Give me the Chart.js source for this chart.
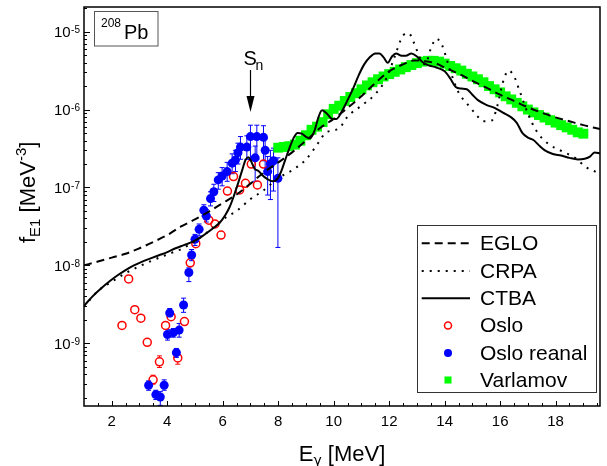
<!DOCTYPE html>
<html>
<head>
<meta charset="utf-8">
<title>208Pb E1 strength function</title>
<script src="https://cdn.jsdelivr.net/npm/chart.js@4.4.0/dist/chart.umd.min.js"></script>
<style>
  body { margin: 0; background: #fff; }
</style>
</head>
<body>
<canvas id="chart" width="607" height="466"></canvas>
<script>
// EGLO model (dashed)
var egloE = [1.0, 1.5, 2.0, 2.5, 3.0, 3.5, 4.0, 4.5, 5.0, 5.5,
             6.0, 6.5, 7.0, 7.5, 8.0, 8.5, 9.0, 9.5, 10.0, 10.5,
             11.0, 11.5, 12.0, 12.5, 12.9, 13.3, 13.7, 14.0, 14.5, 15.0,
             15.5, 16.0, 16.5, 17.0, 17.5, 18.0, 18.5, 19.0, 19.6];
var egloF = [1.0e-8, 1.12e-8, 1.26e-8, 1.41e-8, 1.66e-8, 2.0e-8, 2.45e-8, 3.16e-8, 3.89e-8, 4.9e-8,
             6.31e-8, 8.13e-8, 1.12e-7, 1.58e-7, 2.09e-7, 2.82e-7, 3.98e-7, 5.75e-7, 7.59e-7, 1.05e-6,
             1.48e-6, 2.19e-6, 3.09e-6, 3.8e-6, 4.27e-6, 4.17e-6, 3.89e-6, 3.47e-6, 2.88e-6, 2.34e-6,
             1.91e-6, 1.55e-6, 1.29e-6, 1.07e-6, 9.12e-7, 7.94e-7, 7.08e-7, 6.31e-7, 5.62e-7];

// CRPA model (dotted)
var crpaE = [1.0, 1.5, 2.0, 2.5, 3.0, 3.5, 4.0, 4.5, 5.0, 5.5,
             6.0, 6.5, 7.0, 7.5, 8.0, 8.5, 9.0, 9.5, 9.7, 10.2,
             10.5, 11.0, 11.5, 11.9, 12.2, 12.5, 12.7, 12.9, 13.1, 13.3,
             13.5, 13.7, 13.9, 14.2, 14.5, 14.8, 15.1, 15.4, 15.7, 15.9,
             16.1, 16.3, 16.5, 16.7, 17.0, 17.3, 17.7, 18.2, 18.7, 19.1,
             19.6];
var crpaF = [2.95e-9, 4.68e-9, 6.17e-9, 7.94e-9, 9.77e-9, 1.17e-8, 1.38e-8, 1.62e-8, 2.04e-8, 2.75e-8,
             3.89e-8, 5.01e-8, 7.08e-8, 9.33e-8, 1.32e-7, 1.66e-7, 2.29e-7, 3.98e-7, 5.01e-7, 5.75e-7,
             8.13e-7, 1.12e-6, 1.58e-6, 2.51e-6, 4.79e-6, 8.91e-6, 9.55e-6, 7.08e-6, 4.68e-6, 3.8e-6,
             6.03e-6, 8.13e-6, 6.76e-6, 3.16e-6, 1.66e-6, 1.2e-6, 8.91e-7, 7.08e-7, 7.24e-7, 1.12e-6,
             2.24e-6, 3.16e-6, 2.69e-6, 1.74e-6, 8.91e-7, 5.37e-7, 3.72e-7, 2.95e-7, 2.4e-7, 1.82e-7,
             1.51e-7];

// CTBA model (solid)
var ctbaE = [1.0, 1.3, 1.6, 1.9, 2.2, 2.5, 2.8, 3.1, 3.4, 3.7,
             4.0, 4.3, 4.6, 4.9, 5.2, 5.4, 5.7, 5.9, 6.1, 6.25,
             6.4, 6.55, 6.7, 6.82, 6.92, 7.02, 7.15, 7.3, 7.42, 7.6,
             7.8, 7.95, 8.1, 8.25, 8.4, 8.55, 8.7, 8.85, 9.0, 9.15,
             9.3, 9.45, 9.58, 9.75, 9.95, 10.1, 10.3, 10.5, 10.7, 10.9,
             11.1, 11.3, 11.5, 11.65, 11.8, 11.95, 12.1, 12.25, 12.45, 12.6,
             12.8, 13.0, 13.2, 13.4, 13.7, 14.0, 14.2, 14.4, 14.6, 14.8,
             15.0, 15.2, 15.5, 15.8, 16.1, 16.4, 16.6, 16.8, 17.0, 17.2,
             17.4, 17.6, 17.9, 18.2, 18.5, 18.8, 19.05, 19.25, 19.4, 19.6];
var ctbaF = [3.02e-9, 3.98e-9, 5.01e-9, 6.17e-9, 7.41e-9, 8.71e-9, 1.0e-8, 1.12e-8, 1.23e-8, 1.35e-8,
             1.48e-8, 1.66e-8, 1.82e-8, 2.0e-8, 2.29e-8, 2.57e-8, 3.09e-8, 3.55e-8, 4.47e-8, 5.62e-8,
             7.76e-8, 1.12e-7, 1.66e-7, 2.24e-7, 2.45e-7, 2.19e-7, 1.74e-7, 1.62e-7, 1.45e-7, 1.29e-7,
             1.2e-7, 1.26e-7, 1.58e-7, 2.24e-7, 3.16e-7, 4.27e-7, 5.01e-7, 4.9e-7, 4.47e-7, 4.27e-7,
             5.25e-7, 7.94e-7, 9.77e-7, 8.91e-7, 7.59e-7, 7.59e-7, 9.55e-7, 1.32e-6, 1.86e-6, 2.75e-6,
             3.8e-6, 4.68e-6, 5.25e-6, 5.25e-6, 4.68e-6, 3.98e-6, 4.79e-6, 5.25e-6, 4.9e-6, 4.9e-6,
             5.25e-6, 4.79e-6, 4.07e-6, 3.72e-6, 3.47e-6, 3.09e-6, 2.51e-6, 1.95e-6, 1.86e-6, 1.82e-6,
             1.55e-6, 1.32e-6, 1.15e-6, 1.05e-6, 9.12e-7, 7.94e-7, 6.76e-7, 5.01e-7, 4.37e-7, 4.07e-7,
             3.47e-7, 3.02e-7, 2.69e-7, 2.57e-7, 2.4e-7, 2.29e-7, 2.34e-7, 2.51e-7, 2.82e-7, 2.75e-7];

// Oslo data (open red circles)
var osloE  = [2.37, 2.61, 2.83, 3.05, 3.28, 3.49, 3.72, 3.94, 4.14, 4.38, 4.62, 4.83,
              5.03, 5.50, 5.72, 5.94, 6.17, 6.39, 6.61, 6.82, 7.03, 7.25, 7.47];
var osloF  = [1.7e-9, 6.7e-9, 2.7e-9, 2.1e-9, 1.03e-9, 3.4e-10, 5.8e-10, 1.7e-9, 2.2e-9, 6.5e-10, 1.9e-9, 1.08e-8,
              1.9e-8, 3.8e-8, 3.4e-8, 2.45e-8, 9.0e-8, 1.38e-7, 9.3e-8, 1.13e-7, 2.0e-7, 1.08e-7, 2.0e-7];
var osloLo = [1.6e-9, 6.2e-9, 2.55e-9, 2.0e-9, 9.7e-10, 3.0e-10, 4.9e-10, 1.6e-9, 2.05e-9, 5.4e-10, 1.75e-9, 1.0e-8,
              1.8e-8, 3.6e-8, 3.2e-8, 2.3e-8, 8.5e-8, 1.3e-7, 8.8e-8, 1.07e-7, 1.9e-7, 1.02e-7, 1.9e-7];
var osloHi = [1.8e-9, 7.2e-9, 2.85e-9, 2.2e-9, 1.09e-9, 3.9e-10, 6.9e-10, 1.8e-9, 2.35e-9, 7.6e-10, 2.05e-9, 1.16e-8,
              2.0e-8, 4.0e-8, 3.6e-8, 2.6e-8, 9.5e-8, 1.46e-7, 9.8e-8, 1.19e-7, 2.1e-7, 1.14e-7, 2.1e-7];

// Oslo reanalysis (filled blue circles)
var reanE  = [3.33, 3.59, 3.75, 3.89, 4.01, 4.09, 4.22, 4.33, 4.43, 4.59,
              4.78, 4.88, 5.0, 5.15, 5.32, 5.41, 5.56, 5.68, 5.84, 5.98,
              6.16, 6.34, 6.46, 6.55, 6.64, 6.87, 7.0, 7.17, 7.23, 7.47,
              7.53, 7.62, 7.72, 7.83, 7.99];
var reanF  = [2.9e-10, 2.2e-10, 2.05e-10, 2.9e-10, 1.3e-9, 2.45e-9, 1.37e-9, 7.6e-10, 1.48e-9, 3.1e-9,
              8.1e-9, 1.36e-8, 2.16e-8, 2.9e-8, 5.1e-8, 4.3e-8, 7.2e-8, 8.8e-8, 1.25e-7, 1.4e-7,
              1.6e-7, 2.05e-7, 2.25e-7, 2.8e-7, 3.3e-7, 3.3e-7, 4.5e-7, 2.4e-7, 4.5e-7, 4.4e-7,
              3.0e-7, 1.6e-7, 2.0e-7, 2.2e-7, 1.31e-7];
var reanLo = [2.5e-10, 1.9e-10, 1.6e-10, 2.5e-10, 1.1e-9, 2.2e-9, 1.2e-9, 6.6e-10, 1.2e-9, 2.5e-9,
              6.2e-9, 1.15e-8, 1.8e-8, 2.4e-8, 4.3e-8, 3.6e-8, 5.8e-8, 6.6e-8, 9.5e-8, 1.05e-7,
              1.2e-7, 1.5e-7, 1.6e-7, 2.0e-7, 2.3e-7, 2.3e-7, 2.3e-7, 1.2e-7, 2.3e-7, 2.2e-7,
              1.5e-7, 8.0e-8, 7.0e-8, 9.0e-8, 1.7e-8];
var reanHi = [3.3e-10, 2.5e-10, 2.4e-10, 3.4e-10, 1.5e-9, 2.8e-9, 1.55e-9, 8.6e-10, 1.8e-9, 3.8e-9,
              9.3e-9, 1.6e-8, 2.5e-8, 3.4e-8, 6.0e-8, 5.2e-8, 8.8e-8, 1.1e-7, 1.55e-7, 1.8e-7,
              2.1e-7, 2.7e-7, 3.0e-7, 3.7e-7, 4.5e-7, 4.6e-7, 6.3e-7, 3.4e-7, 6.3e-7, 6.2e-7,
              4.2e-7, 2.5e-7, 3.0e-7, 3.2e-7, 2.4e-7];

// Varlamov (green squares)
var varlE = [8.0, 8.2, 8.4, 8.6, 8.8, 9.0, 9.2, 9.4, 9.6, 9.8,
             10.0, 10.2, 10.4, 10.6, 10.8, 11.0, 11.2, 11.4, 11.6, 11.8,
             12.0, 12.2, 12.4, 12.6, 12.8, 13.0, 13.2, 13.4, 13.6, 13.8,
             14.0, 14.2, 14.4, 14.6, 14.8, 15.0, 15.2, 15.4, 15.6, 15.8,
             16.0, 16.2, 16.4, 16.6, 16.8, 17.0, 17.2, 17.4, 17.6, 17.8,
             18.0, 18.2, 18.4, 18.6, 18.8, 19.0];
var varlF = [3.24e-7, 3.31e-7, 3.39e-7, 3.55e-7, 3.98e-7, 4.68e-7, 5.5e-7, 6.03e-7, 6.9e-7, 8.7e-7,
             1.02e-6, 1.12e-6, 1.29e-6, 1.45e-6, 1.62e-6, 1.82e-6, 2.04e-6, 2.24e-6, 2.45e-6, 2.66e-6,
             2.85e-6, 3.05e-6, 3.27e-6, 3.5e-6, 3.72e-6, 3.94e-6, 4.12e-6, 4.22e-6, 4.22e-6, 4.12e-6,
             3.89e-6, 3.63e-6, 3.39e-6, 3.16e-6, 2.88e-6, 2.66e-6, 2.45e-6, 2.24e-6, 2.0e-6, 1.82e-6,
             1.66e-6, 1.48e-6, 1.35e-6, 1.22e-6, 1.1e-6, 1.0e-6, 9.2e-7, 8.5e-7, 7.9e-7, 7.3e-7,
             6.8e-7, 6.3e-7, 5.9e-7, 5.5e-7, 5.1e-7, 4.9e-7];

var xTickLabels = [2, 4, 6, 8, 10, 12, 14, 16, 18];
var yTickExps = [-9, -8, -7, -6, -5];
var snEnergy = 7.0;

var FONT = '"Liberation Sans", Arial, sans-serif';
function font(sz, fam) { return sz + 'px ' + (fam || FONT); }

function pts(xs, ys) {
  return xs.map(function (x, i) { return { x: x, y: ys[i] }; });
}

// text pieces: [text, size, baseline shift, family]
function drawPieces(ctx, pieces, x, y) {
  var cx = x;
  pieces.forEach(function (p) {
    ctx.font = font(p[1], p[3]);
    ctx.fillText(p[0], cx, y + p[2]);
    cx += ctx.measureText(p[0]).width;
  });
  return cx - x;
}
function piecesWidth(ctx, pieces) {
  var w = 0;
  pieces.forEach(function (p) { ctx.font = font(p[1], p[3]); w += ctx.measureText(p[0]).width; });
  return w;
}

var errorBars = {
  id: 'errorBars',
  beforeDatasetsDraw: function (chart) {
    var ctx = chart.ctx, xs = chart.scales.x, ys = chart.scales.y, a = chart.chartArea;
    ctx.save();
    ctx.beginPath();
    ctx.rect(a.left, a.top, a.right - a.left, a.bottom - a.top);
    ctx.clip();
    // only the part of a bar outside the marker is drawn
    function bars(E, F, lo, hi, r, color) {
      ctx.strokeStyle = color;
      ctx.lineWidth = 1;
      ctx.beginPath();
      E.forEach(function (e, i) {
        var px = xs.getPixelForValue(e), pc = ys.getPixelForValue(F[i]);
        var p1 = ys.getPixelForValue(lo[i]), p2 = ys.getPixelForValue(hi[i]);
        if (p1 - pc > r) {
          ctx.moveTo(px, pc + r); ctx.lineTo(px, p1);
          ctx.moveTo(px - 2.5, p1); ctx.lineTo(px + 2.5, p1);
        }
        if (pc - p2 > r) {
          ctx.moveTo(px, pc - r); ctx.lineTo(px, p2);
          ctx.moveTo(px - 2.5, p2); ctx.lineTo(px + 2.5, p2);
        }
      });
      ctx.stroke();
    }
    bars(osloE, osloF, osloLo, osloHi, 4, '#ff0000');
    bars(reanE, reanF, reanLo, reanHi, 3, '#0000ff');
    ctx.restore();
  }
};

var decorations = {
  id: 'decorations',
  afterDraw: function (chart) {
    var ctx = chart.ctx, a = chart.chartArea, xs = chart.scales.x, ys = chart.scales.y;
    ctx.save();
    ctx.fillStyle = '#000';
    ctx.strokeStyle = '#000';

    // ticks, pointing inward
    ctx.lineWidth = 1;
    ctx.beginPath();
    for (var v = 1.5; v < xs.max; v += 0.5) {
      var px = Math.round(xs.getPixelForValue(v)) + 0.5;
      var len = (v % 2 === 0) ? 5 : 3;
      ctx.moveTo(px, a.bottom); ctx.lineTo(px, a.bottom - len);
    }
    for (var e = -10; e <= -5; e++) {
      for (var m = 1; m < 10; m++) {
        var val = m * Math.pow(10, e);
        if (val <= ys.min || val >= ys.max) continue;
        var py = Math.round(ys.getPixelForValue(val)) + 0.5;
        ctx.moveTo(a.left, py); ctx.lineTo(a.left + (m === 1 ? 6 : 3), py);
      }
    }
    ctx.stroke();

    // frame
    ctx.lineWidth = 1.5;
    ctx.strokeRect(a.left, a.top, a.right - a.left, a.bottom - a.top);

    // x tick labels
    ctx.font = font(15);
    ctx.textAlign = 'center';
    ctx.textBaseline = 'middle';
    xTickLabels.forEach(function (t) {
      ctx.fillText(String(t), xs.getPixelForValue(t), 422);
    });

    // y tick labels 10^n
    ctx.textAlign = 'left';
    ctx.textBaseline = 'alphabetic';
    yTickExps.forEach(function (n) {
      var py = ys.getPixelForValue(Math.pow(10, n));
      var sup = String(n);
      ctx.font = font(10);
      var sw = ctx.measureText(sup).width;
      ctx.font = font(15);
      var bw = ctx.measureText('10').width;
      var right = a.left - 4;
      ctx.fillText('10', right - sw - bw - 0.5, py + 5.3);
      ctx.font = font(10);
      ctx.fillText(sup, right - sw, py + 1.5);
    });

    // x title
    var xt = [['E', 22, 0], ['\u03b3', 14, 4, '"DejaVu Sans", sans-serif'], [' [MeV]', 22, 0]];
    var xw = piecesWidth(ctx, xt);
    drawPieces(ctx, xt, (a.left + a.right) / 2 - xw / 2, 461);

    // y title
    ctx.save();
    ctx.translate(35, 243);
    ctx.rotate(-Math.PI / 2);
    drawPieces(ctx, [['f', 22, 0], ['E1', 15, 5], [' [MeV', 22, 0], ['-3', 15, -9], [']', 22, 0]], 0, 0);
    ctx.restore();

    // nucleus label box
    ctx.strokeStyle = '#555';
    ctx.lineWidth = 1;
    ctx.strokeRect(94.5, 11.5, 63.5, 34.5);
    ctx.font = font(12);
    ctx.fillText('208', 101, 27);
    ctx.font = font(20);
    ctx.fillText('Pb', 124, 38.5);

    // neutron separation energy arrow
    var sx = Math.round(xs.getPixelForValue(snEnergy)) + 0.5;
    ctx.font = font(20);
    ctx.fillText('S', sx - 7, 65);
    ctx.font = font(14);
    ctx.fillText('n', sx + 5, 70);
    ctx.strokeStyle = '#000';
    ctx.lineWidth = 1.2;
    ctx.beginPath();
    ctx.moveTo(sx, 70); ctx.lineTo(sx, 100);
    ctx.stroke();
    ctx.beginPath();
    ctx.moveTo(sx - 4, 96); ctx.lineTo(sx + 4, 96); ctx.lineTo(sx, 112); ctx.closePath();
    ctx.fill();

    // legend
    var lx = 417.5, ly = 225.5, lw = 179, lh = 167;
    ctx.fillStyle = '#fff';
    ctx.fillRect(lx, ly, lw, lh);
    ctx.strokeStyle = '#333';
    ctx.lineWidth = 1;
    ctx.strokeRect(lx, ly, lw, lh);
    var rowY = [243.3, 271, 298.3, 325.5, 353, 380];
    chart.data.datasets.forEach(function (ds, i) {
      var y = rowY[i];
      ctx.save();
      if (ds.showLine) {
        ctx.strokeStyle = ds.borderColor;
        ctx.lineWidth = ds.borderWidth;
        ctx.setLineDash(ds.borderDash || []);
        ctx.beginPath();
        ctx.moveTo(421.7, y); ctx.lineTo(470, y);
        ctx.stroke();
      } else {
        ctx.fillStyle = ds.backgroundColor;
        ctx.strokeStyle = ds.borderColor;
        ctx.lineWidth = ds.borderWidth;
        Chart.helpers.drawPoint(ctx, {
          pointStyle: ds.pointStyle, radius: ds.legendRadius, rotation: 0,
          borderWidth: ds.borderWidth
        }, 448, y);
      }
      ctx.restore();
      ctx.fillStyle = '#000';
      ctx.font = font(21);
      ctx.textBaseline = 'middle';
      ctx.fillText(ds.label, 480, y + 1);
      ctx.textBaseline = 'alphabetic';
    });
    ctx.restore();
  }
};

var chart = new Chart(document.getElementById('chart'), {
  type: 'scatter',
  data: {
    datasets: [
      { label: 'EGLO', data: pts(egloE, egloF), showLine: true, borderColor: '#000', borderWidth: 2,
        borderDash: [8, 5], pointRadius: 0, cubicInterpolationMode: 'monotone', order: 1 },
      { label: 'CRPA', data: pts(crpaE, crpaF), showLine: true, borderColor: '#000', borderWidth: 2,
        borderDash: [2, 6], pointRadius: 0, cubicInterpolationMode: 'monotone', order: 1 },
      { label: 'CTBA', data: pts(ctbaE, ctbaF), showLine: true, borderColor: '#000', borderWidth: 2,
        pointRadius: 0, cubicInterpolationMode: 'monotone', order: 1 },
      { label: 'Oslo', data: pts(osloE, osloF), showLine: false, pointStyle: 'circle', pointRadius: 4,
        legendRadius: 3.5, backgroundColor: 'rgba(0,0,0,0)', borderColor: '#ff0000', borderWidth: 1.5, order: 3 },
      { label: 'Oslo reanal', data: pts(reanE, reanF), showLine: false, pointStyle: 'circle', pointRadius: 4.5,
        legendRadius: 4, backgroundColor: '#0000ff', borderColor: '#0000ff', borderWidth: 0, order: 2 },
      { label: 'Varlamov', data: pts(varlE, varlF), showLine: false, pointStyle: 'rect', pointRadius: 7,
        legendRadius: 5, backgroundColor: '#00ff00', borderColor: '#00ff00', borderWidth: 0, order: 4 }
    ]
  },
  options: {
    responsive: false,
    devicePixelRatio: 1,
    animation: false,
    layout: { padding: { left: 84, top: 7, right: 4, bottom: 60 } },
    plugins: { legend: { display: false }, tooltip: { enabled: false } },
    scales: {
      x: { type: 'linear', min: 1, max: 19.6, display: false },
      y: { type: 'logarithmic', min: 1.57e-10, max: 2.07e-5, display: false }
    }
  },
  plugins: [errorBars, decorations]
});
</script>
</body>
</html>
